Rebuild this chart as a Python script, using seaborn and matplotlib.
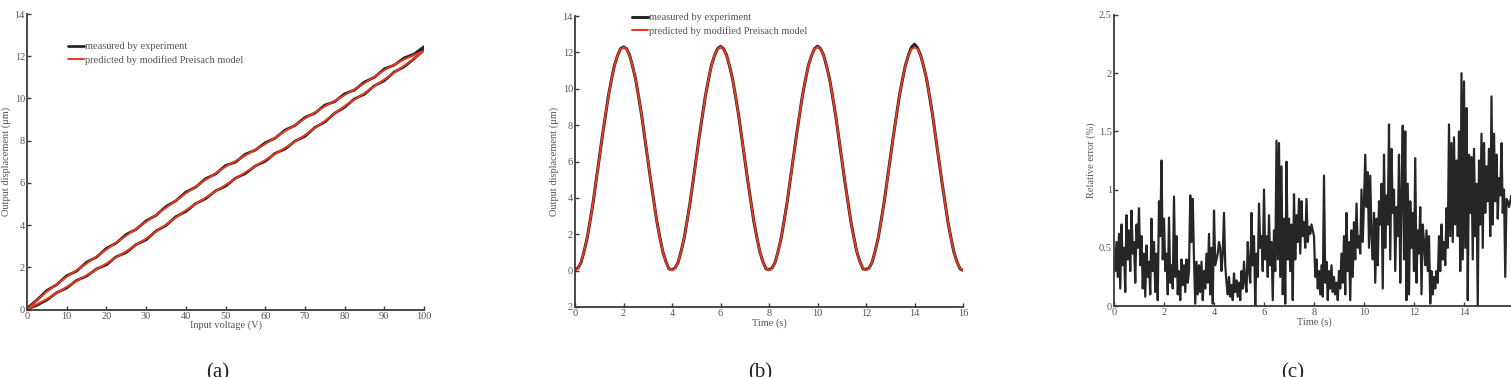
import numpy as np
import pandas as pd
import matplotlib
matplotlib.use("Agg")
import matplotlib.pyplot as plt
import seaborn as sns

# ---------------- data ----------------
# (a) hysteresis loop: output displacement vs input voltage
model_volt_up = np.arange(0, 101, 5)
model_disp_up = [0.00, 0.50, 1.07, 1.62, 2.18, 2.76, 3.36, 4.02, 4.70, 5.30, 5.90,
                 6.50, 7.08, 7.66, 8.26, 8.93, 9.64, 10.25, 10.90, 11.55, 12.25]
model_volt_down = np.arange(100, -1, -5)
model_disp_down = [12.25, 11.85, 11.34, 10.72, 10.16, 9.62, 9.05, 8.45, 7.84, 7.30, 6.76,
                   6.15, 5.50, 4.82, 4.15, 3.50, 2.84, 2.18, 1.55, 0.85, 0.00]

meas_volt_up = np.arange(0, 100.1, 2.5)
meas_disp_up = [0.02, 0.20, 0.45, 0.80, 1.02, 1.38, 1.58, 1.92, 2.12, 2.50, 2.70,
                3.08, 3.30, 3.72, 3.98, 4.40, 4.64, 5.02, 5.25, 5.62, 5.84,
                6.22, 6.44, 6.80, 7.02, 7.40, 7.60, 7.98, 8.20, 8.62, 8.88,
                9.30, 9.58, 9.98, 10.20, 10.60, 10.84, 11.25, 11.50, 11.88, 12.30]
meas_volt_down = np.arange(100, -0.1, -2.5)
meas_disp_down = [12.45, 12.10, 11.92, 11.58, 11.40, 11.00, 10.78, 10.40, 10.22, 9.85, 9.68,
                  9.30, 9.10, 8.72, 8.50, 8.12, 7.90, 7.55, 7.36, 6.98, 6.82,
                  6.42, 6.20, 5.80, 5.56, 5.15, 4.88, 4.46, 4.20, 3.80, 3.56,
                  3.15, 2.90, 2.48, 2.24, 1.82, 1.60, 1.18, 0.90, 0.45, 0.05]

# (b) output displacement vs time (sampled every 0.125 s)
time_b = np.arange(0, 16.01, 0.125)
pred_disp_b = [
    0.00, 0.12, 0.47, 1.04, 1.80, 2.73, 3.80, 4.95, 6.15, 7.35, 8.50, 9.57, 10.50, 11.26, 11.83, 12.18,
    12.28, 12.18, 11.83, 11.26, 10.50, 9.57, 8.50, 7.35, 6.15, 4.95, 3.80, 2.73, 1.80, 1.04, 0.47, 0.12,
    0.02, 0.12, 0.47, 1.04, 1.80, 2.73, 3.80, 4.95, 6.15, 7.35, 8.50, 9.57, 10.50, 11.26, 11.83, 12.18,
    12.31, 12.18, 11.83, 11.26, 10.50, 9.57, 8.50, 7.35, 6.15, 4.95, 3.80, 2.73, 1.80, 1.04, 0.47, 0.12,
    0.02, 0.12, 0.47, 1.04, 1.80, 2.73, 3.80, 4.95, 6.15, 7.35, 8.50, 9.57, 10.50, 11.26, 11.83, 12.18,
    12.30, 12.18, 11.83, 11.26, 10.50, 9.57, 8.50, 7.35, 6.15, 4.95, 3.80, 2.73, 1.80, 1.04, 0.47, 0.12,
    0.02, 0.12, 0.47, 1.04, 1.80, 2.73, 3.80, 4.95, 6.15, 7.35, 8.50, 9.57, 10.50, 11.26, 11.83, 12.18,
    12.27, 12.18, 11.83, 11.26, 10.50, 9.57, 8.50, 7.35, 6.15, 4.95, 3.80, 2.73, 1.80, 1.04, 0.47, 0.12,
    0.00]
meas_disp_b = [
    0.05, 0.14, 0.45, 1.06, 1.78, 2.75, 3.78, 4.97, 6.13, 7.37, 8.48, 9.59, 10.48, 11.28, 11.81, 12.20,
    12.30, 12.20, 11.85, 11.24, 10.52, 9.55, 8.52, 7.33, 6.17, 4.93, 3.82, 2.71, 1.82, 1.02, 0.49, 0.10,
    0.05, 0.14, 0.45, 1.06, 1.78, 2.75, 3.78, 4.97, 6.13, 7.37, 8.48, 9.59, 10.48, 11.28, 11.81, 12.20,
    12.33, 12.20, 11.85, 11.24, 10.52, 9.55, 8.52, 7.33, 6.17, 4.93, 3.82, 2.71, 1.82, 1.02, 0.49, 0.10,
    0.05, 0.14, 0.45, 1.06, 1.78, 2.75, 3.78, 4.97, 6.13, 7.37, 8.48, 9.59, 10.48, 11.28, 11.81, 12.20,
    12.34, 12.20, 11.85, 11.24, 10.52, 9.55, 8.52, 7.33, 6.17, 4.93, 3.82, 2.71, 1.82, 1.02, 0.49, 0.10,
    0.06, 0.14, 0.45, 1.06, 1.78, 2.75, 3.78, 4.97, 6.13, 7.37, 8.48, 9.59, 10.48, 11.28, 11.85, 12.28,
    12.45, 12.24, 11.85, 11.24, 10.52, 9.55, 8.52, 7.33, 6.17, 4.93, 3.82, 2.71, 1.82, 1.02, 0.49, 0.10,
    0.02]

# (c) relative error vs time (sampled every 0.05 s)
time_c = np.arange(0, 16.0, 0.05)
rel_error = [
    0.42, 0.30, 0.55, 0.25, 0.62, 0.15, 0.70, 0.35, 0.50, 0.12, 0.78, 0.40, 0.65, 0.30, 0.82, 0.45, 0.55, 0.20, 0.70, 0.50,
    0.84, 0.35, 0.60, 0.15, 0.45, 0.08, 0.52, 0.25, 0.38, 0.10, 0.75, 0.30, 0.55, 0.12, 0.45, 0.05, 0.90, 0.60, 1.25, 0.40,
    0.75, 0.30, 0.45, 0.10, 0.76, 0.20, 0.35, 0.15, 0.94, 0.25, 0.60, 0.10, 0.30, 0.05, 0.40, 0.18, 0.35, 0.12, 0.40, 0.20,
    0.30, 0.95, 0.55, 0.92, 0.40, 0.02, 0.38, 0.10, 0.35, 0.12, 0.38, 0.05, 0.30, 0.15, 0.45, 0.20, 0.62, 0.10, 0.50, 0.02,
    0.82, 0.35, 0.40, 0.45, 0.55, 0.50, 0.30, 0.45, 0.80, 0.35, 0.20, 0.10, 0.25, 0.08, 0.18, 0.05, 0.28, 0.12, 0.22, 0.08,
    0.20, 0.05, 0.30, 0.15, 0.38, 0.20, 0.12, 0.55, 0.30, 0.20, 0.80, 0.35, 0.60, 0.00, 0.45, 0.25, 0.88, 0.50, 0.60, 0.30,
    1.00, 0.40, 0.60, 0.25, 0.78, 0.35, 0.55, 0.05, 0.65, 0.30, 1.42, 0.40, 1.40, 0.25, 1.20, 0.10, 0.75, 0.02, 1.24, 0.40,
    0.75, 0.30, 0.70, 0.05, 0.96, 0.40, 0.78, 0.55, 0.92, 0.45, 0.90, 0.60, 0.72, 0.50, 0.92, 0.55, 0.68, 0.62, 0.70, 0.65,
    0.60, 0.25, 0.40, 0.15, 0.30, 0.10, 0.35, 0.08, 1.12, 0.20, 0.38, 0.05, 0.30, 0.15, 0.35, 0.12, 0.25, 0.10, 0.20, 0.05,
    0.30, 0.15, 0.45, 0.20, 0.60, 0.10, 0.80, 0.30, 0.55, 0.05, 0.65, 0.25, 0.72, 0.40, 0.88, 0.50, 0.60, 0.45, 1.00, 0.55,
    0.90, 1.30, 0.85, 1.15, 0.50, 1.12, 0.60, 0.40, 0.80, 0.20, 0.75, 0.35, 0.90, 0.70, 1.05, 0.15, 1.30, 0.50, 0.95, 0.70,
    1.56, 0.40, 1.35, 0.80, 1.00, 0.30, 0.85, 0.60, 1.30, 0.20, 0.95, 1.55, 0.40, 1.50, 0.05, 1.05, 0.10, 0.90, 0.50, 0.80,
    0.30, 1.27, 0.20, 0.65, 0.45, 0.85, 0.10, 0.70, 0.55, 0.35, 0.65, 0.30, 0.60, 0.02, 0.30, 0.10, 0.25, 0.15, 0.30, 0.20,
    0.60, 0.30, 0.70, 0.40, 0.55, 0.35, 0.84, 0.50, 1.56, 0.60, 1.40, 0.55, 1.45, 0.70, 1.25, 0.60, 1.50, 0.30, 2.00, 0.40,
    1.93, 0.50, 1.70, 0.05, 1.30, 0.80, 1.28, 0.40, 1.35, 0.60, 1.05, 0.00, 1.25, 0.70, 1.48, 0.50, 1.40, 0.80, 1.20, 0.90,
    1.35, 0.60, 1.80, 0.70, 1.48, 0.90, 1.30, 0.75, 1.10, 0.95, 1.40, 0.80, 1.00, 0.25, 0.92, 0.90, 0.85, 0.90, 0.95, 0.90]

legend_labels = ["measured by experiment", "predicted by modified Preisach model"]
x_ticks_a = [0, 10, 20, 30, 40, 50, 60, 70, 80, 90, 100]
y_ticks_a = [0, 2, 4, 6, 8, 10, 12, 14]
x_ticks_b = [0, 2, 4, 6, 8, 10, 12, 14, 16]
y_ticks_b = [-2, 0, 2, 4, 6, 8, 10, 12, 14]
y_ticklabels_b = ["2", "0", "2", "4", "6", "8", "10", "12", "14"]
x_ticks_c = [0, 2, 4, 6, 8, 10, 12, 14, 16]
x_ticklabels_c = ["0", "2", "4", "6", "8", "10", "12", "14", "1"]
y_ticks_c = [0, 0.5, 1, 1.5, 2, 2.5]
y_ticklabels_c = ["0", "0.5", "1", "1.5", "2", "2.5"]
captions = ["(a)", "(b)", "(c)"]

# ---------------- style ----------------
sns.set_style("ticks")
TXT = "#555555"
AX = "#3a3a3a"
RED = "#e8391f"
BLK = "#262626"
plt.rcParams.update({
    "font.family": ["Liberation Serif", "DejaVu Serif"],
    "xtick.direction": "in",
    "ytick.direction": "in",
    "xtick.major.size": 3,
    "ytick.major.size": 3,
    "xtick.major.width": 1.0,
    "ytick.major.width": 1.0,
    "xtick.major.pad": 1.5,
    "ytick.major.pad": 1.5,
    "xtick.color": AX,
    "ytick.color": AX,
    "xtick.labelcolor": TXT,
    "ytick.labelcolor": TXT,
    "xtick.labelsize": 7.5,
    "ytick.labelsize": 7.5,
    "axes.edgecolor": AX,
    "axes.linewidth": 1.3,
    "axes.labelcolor": TXT,
    "axes.labelsize": 7.5,
})

fig = plt.figure(figsize=(15.11, 3.77), dpi=100)
W, H = 1511.0, 377.0


def add_axes(l, r, top, bot):
    return fig.add_axes([l / W, 1 - bot / H, (r - l) / W, (bot - top) / H])


def style(ax):
    sns.despine(ax=ax)
    ax.spines["left"].set_zorder(5)
    ax.spines["bottom"].set_zorder(5)


def legend(ax, anchor):
    leg = ax.legend(loc="upper left", bbox_to_anchor=anchor, frameon=False,
                    fontsize=7.5, handlelength=1.5, handletextpad=0.15,
                    labelspacing=0.35, borderpad=0, borderaxespad=0)
    for t in leg.get_texts():
        t.set_color(TXT)


# ---------- (a) ----------
ax1 = add_axes(27, 424, 14, 309.5)
df_ma = pd.DataFrame({"V": np.concatenate([meas_volt_up, meas_volt_down]),
                      "D": meas_disp_up + meas_disp_down})
df_pa = pd.DataFrame({"V": np.concatenate([model_volt_up, model_volt_down]),
                      "D": model_disp_up + model_disp_down})
sns.lineplot(data=df_ma, x="V", y="D", sort=False, estimator=None, ax=ax1,
             color=BLK, lw=2.0, label=legend_labels[0])
sns.lineplot(data=df_pa, x="V", y="D", sort=False, estimator=None, ax=ax1,
             color=RED, lw=1.4, label=legend_labels[1])
ax1.set_xlim(0, 100)
ax1.set_ylim(0, 14)
ax1.set_xticks(x_ticks_a)
ax1.set_yticks(y_ticks_a)
ax1.set_xlabel("Input voltage (V)", labelpad=0)
ax1.set_ylabel("Output displacement (μm)")
ax1.yaxis.set_label_coords(-0.040, 0.5)
style(ax1)
legend(ax1, (0.103, 0.905))

# ---------- (b) ----------
ax2 = add_axes(575, 963, 16, 307)
df_mb = pd.DataFrame({"t": time_b, "D": meas_disp_b})
df_pb = pd.DataFrame({"t": time_b, "D": pred_disp_b})
sns.lineplot(data=df_mb, x="t", y="D", ax=ax2, color=BLK, lw=2.2,
             label=legend_labels[0])
sns.lineplot(data=df_pb, x="t", y="D", ax=ax2, color=RED, lw=1.4,
             label=legend_labels[1])
ax2.set_xlim(0, 16)
ax2.set_ylim(-2, 14)
ax2.set_xticks(x_ticks_b)
ax2.set_yticks(y_ticks_b)
ax2.set_yticklabels(y_ticklabels_b)
ax2.set_xlabel("Time (s)", labelpad=0)
ax2.set_ylabel("Output displacement (μm)")
ax2.yaxis.set_label_coords(-0.041, 0.5)
style(ax2)
legend(ax2, (0.147, 1.01))

# ---------- (c) ----------
ax3 = add_axes(1114, 1514, 15, 306)
df_c = pd.DataFrame({"t": time_c, "E": rel_error})
sns.lineplot(data=df_c, x="t", y="E", ax=ax3, color=BLK, lw=1.6)
ax3.set_xlim(0, 16)
ax3.set_ylim(0, 2.5)
ax3.set_xticks(x_ticks_c)
ax3.set_xticklabels(x_ticklabels_c)
ax3.set_yticks(y_ticks_c)
ax3.set_yticklabels(y_ticklabels_c)
ax3.set_xlabel("Time (s)", labelpad=0)
ax3.set_ylabel("Relative error (%)")
ax3.yaxis.set_label_coords(-0.045, 0.5)
style(ax3)

# captions
for x, c in zip([218, 760, 1293], captions):
    fig.text(x / W, 1 - 363 / H, c, ha="center", va="top", fontsize=15,
             color="#222222")

fig.savefig("out.png", dpi=100)
